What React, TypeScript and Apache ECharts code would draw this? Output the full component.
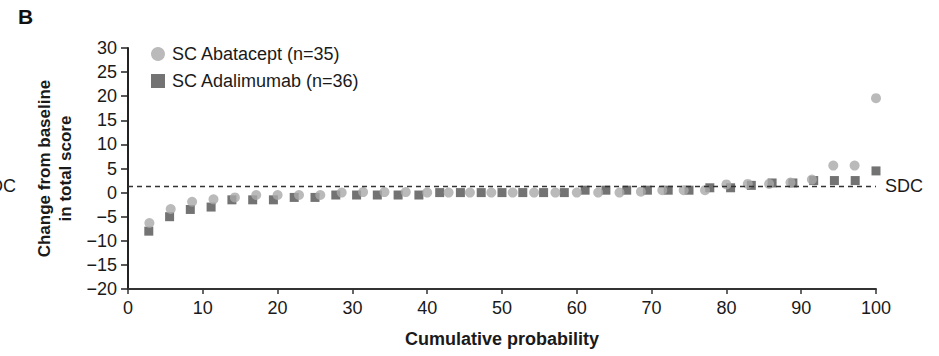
import React, { useEffect, useRef } from "react";
import * as echarts from "echarts";

const abataceptProbability = [
  2.86, 5.71, 8.57, 11.43, 14.29, 17.14, 20.0, 22.86, 25.71, 28.57, 31.43, 34.29,
  37.14, 40.0, 42.86, 45.71, 48.57, 51.43, 54.29, 57.14, 60.0, 62.86, 65.71, 68.57,
  71.43, 74.29, 77.14, 80.0, 82.86, 85.71, 88.57, 91.43, 94.29, 97.14, 100.0,
];
const abataceptChange = [
  -6.3, -3.4, -1.9, -1.4, -1.0, -0.5, -0.5, -0.5, -0.5, 0.0, 0.1, 0.1,
  0.1, 0.0, 0.0, 0.0, 0.0, 0.0, 0.0, 0.0, 0.0, 0.0, 0.0, 0.2,
  0.5, 0.5, 0.5, 1.7, 1.8, 1.8, 2.1, 2.7, 5.6, 5.6, 19.6,
];
const adalimumabProbability = [
  2.78, 5.56, 8.33, 11.11, 13.89, 16.67, 19.44, 22.22, 25.0, 27.78, 30.56, 33.33,
  36.11, 38.89, 41.67, 44.44, 47.22, 50.0, 52.78, 55.56, 58.33, 61.11, 63.89, 66.67,
  69.44, 72.22, 75.0, 77.78, 80.56, 83.33, 86.11, 88.89, 91.67, 94.44, 97.22, 100.0,
];
const adalimumabChange = [
  -8.0, -5.0, -3.5, -3.0, -1.5, -1.5, -1.5, -1.0, -1.0, -0.5, -0.5, -0.5,
  -0.5, -0.5, 0.0, 0.0, 0.0, 0.0, 0.0, 0.0, 0.0, 0.5, 0.5, 0.5,
  0.5, 0.5, 0.5, 1.0, 1.0, 1.5, 2.0, 2.0, 2.5, 2.5, 2.5, 4.5,
];
const sdcValue = 1.3;
const seriesNames = ["SC Abatacept (n=35)", "SC Adalimumab (n=36)"];
const xTicks = { min: 0, max: 100, interval: 10 };
const yTicks = { min: -20, max: 30, interval: 5 };

const FONT = "'Liberation Sans', Arial, Helvetica, sans-serif";
const TXT = "#1a1a1a";

export default function App() {
  const ref = useRef<HTMLDivElement>(null);
  useEffect(() => {
    if (!ref.current) return;
    const chart = echarts.init(ref.current, null, { renderer: "svg" });
    const abaData = abataceptProbability.map((x, i) => [x, abataceptChange[i]]);
    const adaData = adalimumabProbability.map((x, i) => [x, adalimumabChange[i]]);
    chart.setOption({
      animation: false,
      backgroundColor: "#fff",
      textStyle: { fontFamily: FONT },
      grid: { left: 128, right: 63, top: 48, bottom: 67, containLabel: false },
      legend: {
        orient: "vertical",
        left: 146,
        top: 40,
        itemWidth: 14,
        itemHeight: 14,
        itemGap: 9,
        data: [
          { name: seriesNames[0], icon: "circle" },
          { name: seriesNames[1], icon: "rect" },
        ],
        textStyle: { fontSize: 18, color: TXT, fontFamily: FONT, padding: [0, 0, 0, 2] },
      },
      graphic: [
        {
          type: "text",
          left: 18,
          top: 6,
          style: { text: "B", fill: "#111", font: `bold 21px ${FONT}` },
        },
        {
          type: "text",
          x: -22,
          y: 186,
          style: { text: "SDC", fill: TXT, font: `18px ${FONT}`, verticalAlign: "middle" },
        },
      ],
      xAxis: {
        type: "value",
        min: xTicks.min,
        max: xTicks.max,
        interval: xTicks.interval,
        name: "Cumulative probability",
        nameLocation: "middle",
        nameGap: 41,
        nameTextStyle: { fontSize: 18, fontWeight: "bold", color: TXT, fontFamily: FONT },
        axisLine: { show: true, onZero: false, lineStyle: { color: "#333", width: 2 } },
        axisTick: { show: true, length: 5, lineStyle: { color: "#333", width: 1.5 } },
        axisLabel: { fontSize: 18, color: TXT, margin: 10, fontFamily: FONT },
        splitLine: { show: false },
      },
      yAxis: {
        type: "value",
        min: yTicks.min,
        max: yTicks.max,
        interval: yTicks.interval,
        name: "Change from baseline\nin total score",
        nameLocation: "middle",
        nameGap: 50,
        nameTextStyle: { fontSize: 17, fontWeight: "bold", color: TXT, lineHeight: 21, fontFamily: FONT },
        axisLine: { show: true, onZero: false, lineStyle: { color: "#222", width: 2 } },
        axisTick: { show: true, length: 7, lineStyle: { color: "#222", width: 1.5 } },
        axisLabel: {
          fontSize: 18,
          color: TXT,
          margin: 11,
          fontFamily: FONT,
          formatter: (v: number) => String(v).replace("-", "\u2212"),
        },
        splitLine: { show: false },
      },
      series: [
        {
          name: seriesNames[1],
          type: "scatter",
          symbol: "rect",
          symbolSize: 9,
          z: 2,
          itemStyle: { color: "#505050" },
          data: adaData,
          markLine: {
            silent: true,
            symbol: "none",
            lineStyle: { color: "#333", width: 1.3, type: [5, 4] },
            label: {
              show: true,
              position: "end",
              distance: 9,
              formatter: "SDC",
              fontSize: 18,
              color: TXT,
              fontFamily: FONT,
            },
            data: [{ yAxis: sdcValue }],
          },
        },
        {
          name: seriesNames[0],
          type: "scatter",
          symbol: "circle",
          symbolSize: 10,
          z: 3,
          itemStyle: { color: "#a9a9a9" },
          data: abaData,
        },
      ],
    });
    return () => chart.dispose();
  }, []);
  return (
    <div
      ref={ref}
      style={{ position: "fixed", left: 0, top: 0, width: 939, height: 356, background: "#fff" }}
    />
  );
}
